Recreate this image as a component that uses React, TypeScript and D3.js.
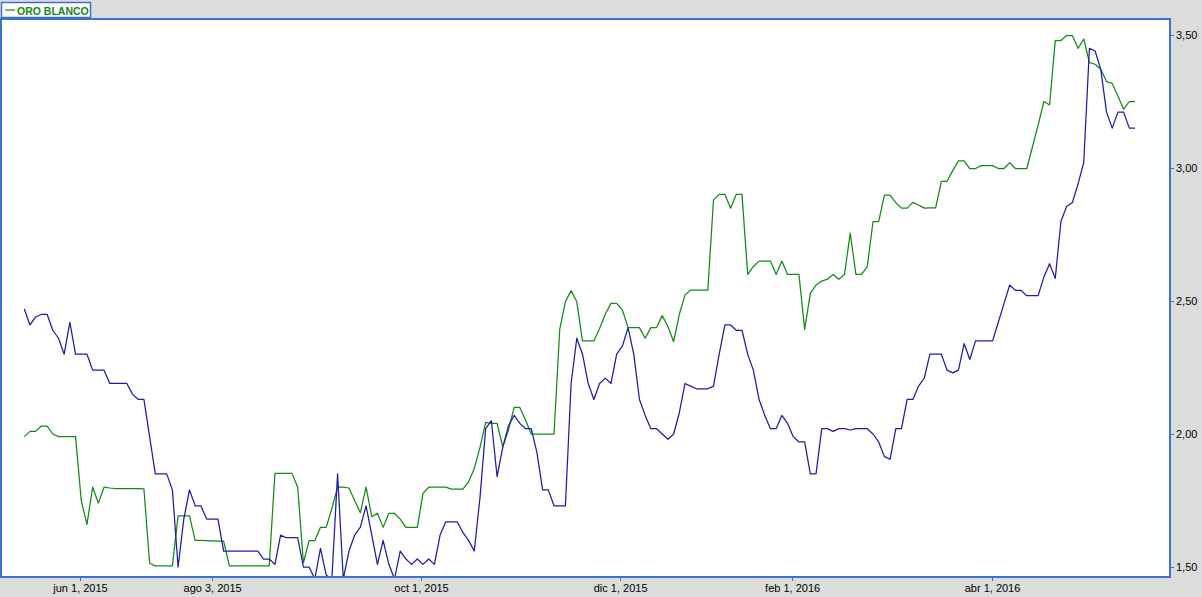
import React, { useRef, useEffect } from "react";
import * as d3 from "d3";

// one value per observation, oldest first
const blueSeries = [
  2.47, 2.41, 2.44, 2.45, 2.45, 2.39, 2.36, 2.3, 2.42, 2.3,
  2.3, 2.3, 2.24, 2.24, 2.24, 2.19, 2.19, 2.19, 2.19, 2.15,
  2.13, 2.13, 1.99, 1.85, 1.85, 1.85, 1.79, 1.5, 1.68, 1.79,
  1.73, 1.73, 1.68, 1.68, 1.68, 1.56, 1.56, 1.56, 1.56, 1.56,
  1.56, 1.56, 1.53, 1.53, 1.51, 1.62, 1.61, 1.61, 1.61, 1.5,
  1.5, 1.455, 1.57, 1.47, 1.455, 1.85, 1.455, 1.56, 1.62, 1.65,
  1.73, 1.62, 1.51, 1.6, 1.51, 1.455, 1.56, 1.53, 1.51, 1.53,
  1.51, 1.53, 1.51, 1.62, 1.67, 1.67, 1.67, 1.63, 1.6, 1.56,
  1.76, 2.02, 2.05, 1.84, 1.95, 2.03, 2.07, 2.04, 2.02, 2.02,
  1.93, 1.79, 1.79, 1.73, 1.73, 1.73, 2.19, 2.36, 2.3, 2.19,
  2.13, 2.19, 2.21, 2.19, 2.3, 2.33, 2.4, 2.3, 2.13, 2.07,
  2.02, 2.02, 2.0, 1.98, 2.0, 2.08, 2.19, 2.18, 2.17, 2.17,
  2.17, 2.18, 2.3, 2.41, 2.41, 2.39, 2.39, 2.3, 2.24, 2.13,
  2.07, 2.02, 2.02, 2.07, 2.04, 1.99, 1.97, 1.97, 1.85, 1.85,
  2.02, 2.02, 2.01, 2.02, 2.02, 2.015, 2.02, 2.02, 2.02, 2.0,
  1.97, 1.915, 1.905, 2.02, 2.02, 2.13, 2.13, 2.18, 2.21, 2.3,
  2.3, 2.3, 2.24, 2.23, 2.24, 2.34, 2.28, 2.35, 2.35, 2.35,
  2.35, 2.42, 2.49, 2.56, 2.54, 2.54, 2.52, 2.52, 2.52, 2.59,
  2.64, 2.585, 2.8, 2.855, 2.87, 2.94, 3.02, 3.45, 3.44, 3.37,
  3.21, 3.15, 3.21, 3.21, 3.15, 3.15,
];

const greenSeries = [
  1.99, 2.01, 2.01, 2.03, 2.03, 2.0, 1.99, 1.99, 1.99, 1.99,
  1.75, 1.66, 1.8, 1.74, 1.8, 1.797, 1.795, 1.795, 1.795, 1.795,
  1.795, 1.794, 1.514, 1.504, 1.504, 1.504, 1.504, 1.692, 1.692, 1.692,
  1.6, 1.6, 1.599, 1.598, 1.597, 1.597, 1.504, 1.504, 1.504, 1.504,
  1.504, 1.504, 1.504, 1.504, 1.852, 1.852, 1.852, 1.852, 1.8, 1.516,
  1.599, 1.599, 1.649, 1.649, 1.72, 1.8, 1.8, 1.797, 1.75, 1.704,
  1.8, 1.689, 1.702, 1.649, 1.702, 1.702, 1.68, 1.649, 1.649, 1.649,
  1.777, 1.8, 1.8, 1.8, 1.8, 1.793, 1.793, 1.793, 1.82, 1.87,
  1.95, 2.044, 2.04, 2.04, 1.952, 2.015, 2.1, 2.1, 2.053, 2.0,
  2.0, 2.0, 2.0, 2.0, 2.393, 2.497, 2.539, 2.497, 2.35, 2.35,
  2.35, 2.397, 2.45, 2.491, 2.491, 2.466, 2.4, 2.4, 2.4, 2.36,
  2.4, 2.4, 2.445, 2.404, 2.347, 2.45, 2.523, 2.541, 2.541, 2.541,
  2.541, 2.88, 2.901, 2.901, 2.849, 2.901, 2.901, 2.6, 2.63, 2.65,
  2.65, 2.65, 2.6, 2.65, 2.6, 2.6, 2.6, 2.393, 2.529, 2.56,
  2.575, 2.582, 2.6, 2.582, 2.6, 2.755, 2.6, 2.6, 2.629, 2.798,
  2.798, 2.898, 2.898, 2.87, 2.849, 2.849, 2.871, 2.861, 2.849, 2.85,
  2.85, 2.95, 2.95, 2.99, 3.027, 3.027, 2.998, 2.998, 3.009, 3.009,
  3.009, 2.998, 2.998, 3.02, 2.998, 2.998, 2.998, 3.08, 3.162, 3.25,
  3.237, 3.479, 3.479, 3.498, 3.498, 3.45, 3.485, 3.396, 3.39, 3.371,
  3.325, 3.318, 3.271, 3.221, 3.25, 3.25,
];

// date labels sit between observations (index position on the x axis)
const xTickLabels = ["jun 1, 2015", "ago 3, 2015", "oct 1, 2015", "dic 1, 2015", "feb 1, 2016", "abr 1, 2016"];
const xTickIndex = [9.78, 32.97, 69.65, 104.6, 134.8, 169.9];
const yTickValues = [1.5, 2.0, 2.5, 3.0, 3.5];
const legendLabel = "ORO BLANCO";

const W = 1202;
const H = 597;

const App: React.FC = () => {
  const ref = useRef<SVGSVGElement | null>(null);

  useEffect(() => {
    const svg = d3.select(ref.current);
    svg.selectAll("*").remove();

    const plot = { left: 1, top: 19, right: 1170, bottom: 577 };
    const font = "'Liberation Sans', Arial, sans-serif";
    const borderColor = "#3d6fcf";

    svg.append("rect").attr("width", W).attr("height", H).attr("fill", "#dcdddb");

    // x: observation index, y: price
    const x = d3.scaleLinear().domain([0, blueSeries.length - 1]).range([24.3, 1135]);
    const y = d3.scaleLinear().domain([1.5, 3.5]).range([567, 35]);

    svg
      .append("rect")
      .attr("x", plot.left)
      .attr("y", plot.top)
      .attr("width", plot.right - plot.left)
      .attr("height", plot.bottom - plot.top)
      .attr("fill", "#ffffff");

    svg
      .append("clipPath")
      .attr("id", "plot-clip")
      .append("rect")
      .attr("x", plot.left + 1)
      .attr("y", plot.top + 1)
      .attr("width", plot.right - plot.left - 2)
      .attr("height", plot.bottom - plot.top - 2);

    const line = d3
      .line<number>()
      .x((_, i) => x(i))
      .y((d) => y(d));

    const lines = svg.append("g").attr("clip-path", "url(#plot-clip)");

    lines
      .append("path")
      .datum(greenSeries)
      .attr("fill", "none")
      .attr("stroke", "#138a13")
      .attr("stroke-width", 1.25)
      .attr("stroke-linejoin", "round")
      .attr("d", line);

    lines
      .append("path")
      .datum(blueSeries)
      .attr("fill", "none")
      .attr("stroke", "#1c1cab")
      .attr("stroke-width", 1.25)
      .attr("stroke-linejoin", "round")
      .attr("d", line);

    // plot frame
    svg
      .append("rect")
      .attr("x", plot.left)
      .attr("y", plot.top)
      .attr("width", plot.right - plot.left)
      .attr("height", plot.bottom - plot.top)
      .attr("fill", "none")
      .attr("stroke", borderColor)
      .attr("stroke-width", 2);

    // right value axis
    const fmt = (v: number) => d3.format(".2f")(v).replace(".", ",");
    const yAxis = svg
      .append("g")
      .attr("transform", `translate(${plot.right},0)`)
      .call(d3.axisRight(y).tickValues(yTickValues).tickSize(4).tickPadding(2).tickFormat(fmt as any));
    yAxis.select(".domain").remove();
    yAxis.selectAll("line").attr("stroke", borderColor);
    yAxis.selectAll("text").attr("fill", "#000").style("font-family", font).style("font-size", "11px");

    // bottom date axis
    const xAxis = svg
      .append("g")
      .attr("transform", `translate(0,${plot.bottom})`)
      .call(
        d3
          .axisBottom(x)
          .tickValues(xTickIndex)
          .tickSize(4)
          .tickPadding(3)
          .tickFormat((_, i) => xTickLabels[i])
      );
    xAxis.select(".domain").remove();
    xAxis.selectAll("line").attr("stroke", borderColor);
    xAxis.selectAll("text").attr("fill", "#000").style("font-family", font).style("font-size", "11px");

    // legend
    const legend = svg.append("g");
    legend
      .append("rect")
      .attr("x", 1.5)
      .attr("y", 2.5)
      .attr("width", 89)
      .attr("height", 15)
      .attr("fill", "#fff")
      .attr("stroke", borderColor)
      .attr("stroke-width", 1.5);
    legend
      .append("line")
      .attr("x1", 5)
      .attr("x2", 15)
      .attr("y1", 10)
      .attr("y2", 10)
      .attr("stroke", "#138a13")
      .attr("stroke-width", 1.2);
    legend
      .append("text")
      .attr("x", 17)
      .attr("y", 14.5)
      .attr("fill", "#138a13")
      .style("font-family", font)
      .style("font-size", "10.5px")
      .style("font-weight", "bold")
      .text(legendLabel);
  }, []);

  return (
    <svg
      ref={ref}
      width={W}
      height={H}
      style={{ position: "absolute", left: 0, top: 0, display: "block" }}
    />
  );
};

export default App;
